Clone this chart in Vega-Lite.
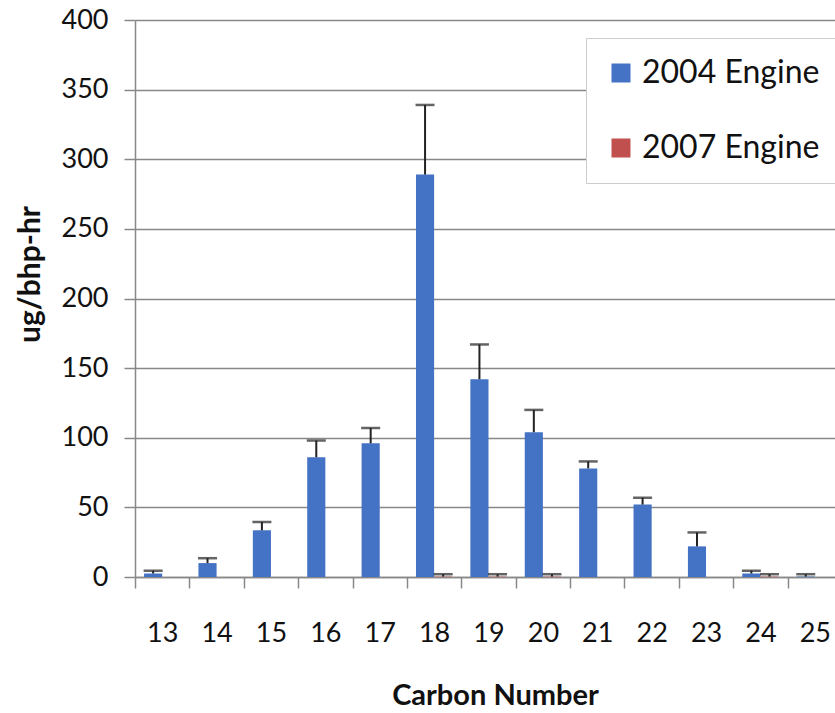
{
  "$schema": "https://vega.github.io/schema/vega-lite/v6.json",
  "width": 700,
  "height": 557,
  "autosize": {"type": "none"},
  "padding": {"left": 135, "top": 20, "right": 0, "bottom": 136},
  "background": "white",
  "config": {
    "view": {"stroke": null},
    "font": "Lato"
  },
  "data": {
    "values": [
      {"carbon": 13, "engine": "2004 Engine", "value": 2.5, "upper": 4.5},
      {"carbon": 14, "engine": "2004 Engine", "value": 10, "upper": 13.5},
      {"carbon": 15, "engine": "2004 Engine", "value": 33.5, "upper": 39.5},
      {"carbon": 16, "engine": "2004 Engine", "value": 86, "upper": 98},
      {"carbon": 17, "engine": "2004 Engine", "value": 96, "upper": 107},
      {"carbon": 18, "engine": "2004 Engine", "value": 289, "upper": 339},
      {"carbon": 19, "engine": "2004 Engine", "value": 142, "upper": 167},
      {"carbon": 20, "engine": "2004 Engine", "value": 104, "upper": 120},
      {"carbon": 21, "engine": "2004 Engine", "value": 78, "upper": 83},
      {"carbon": 22, "engine": "2004 Engine", "value": 52, "upper": 57},
      {"carbon": 23, "engine": "2004 Engine", "value": 22, "upper": 32},
      {"carbon": 24, "engine": "2004 Engine", "value": 2.5, "upper": 4.5},
      {"carbon": 25, "engine": "2004 Engine", "value": 0.3, "upper": 2},
      {"carbon": 13, "engine": "2007 Engine", "value": 0, "upper": null},
      {"carbon": 14, "engine": "2007 Engine", "value": 0, "upper": null},
      {"carbon": 15, "engine": "2007 Engine", "value": 0, "upper": null},
      {"carbon": 16, "engine": "2007 Engine", "value": 0, "upper": null},
      {"carbon": 17, "engine": "2007 Engine", "value": 0, "upper": null},
      {"carbon": 18, "engine": "2007 Engine", "value": 0.3, "upper": 2},
      {"carbon": 19, "engine": "2007 Engine", "value": 0.3, "upper": 2},
      {"carbon": 20, "engine": "2007 Engine", "value": 0.3, "upper": 2},
      {"carbon": 21, "engine": "2007 Engine", "value": 0, "upper": null},
      {"carbon": 22, "engine": "2007 Engine", "value": 0, "upper": null},
      {"carbon": 23, "engine": "2007 Engine", "value": 0, "upper": null},
      {"carbon": 24, "engine": "2007 Engine", "value": 0.3, "upper": 2},
      {"carbon": 25, "engine": "2007 Engine", "value": 0, "upper": null}
    ]
  },
  "encoding": {
    "x": {
      "field": "carbon",
      "type": "ordinal",
      "scale": {"paddingInner": 0, "paddingOuter": 0, "range": [0, 707]},
      "axis": {
        "title": "Carbon Number",
        "titleFont": "Lato",
        "titleFontSize": 29,
        "titleFontWeight": "bold",
        "titleColor": "#111111",
        "titleX": 360,
        "titleY": 118,
        "titleBaseline": "middle",
        "titleAnchor": "start",
        "titleAlign": "center",
        "labelAngle": 0,
        "labelFontSize": 27,
        "labelColor": "#111111",
        "labelPadding": 32,
        "tickBand": "extent",
        "tickSize": 11,
        "tickColor": "#888888",
        "tickWidth": 1.5,
        "domainColor": "#888888",
        "domainWidth": 1.5,
        "grid": false
      }
    },
    "xOffset": {
      "field": "engine",
      "type": "nominal",
      "scale": {"paddingInner": 0, "paddingOuter": 0.5}
    }
  },
  "layer": [
    {
      "mark": {"type": "bar"},
      "encoding": {
        "y": {
          "field": "value",
          "type": "quantitative",
          "scale": {"domain": [0, 400], "nice": false},
          "axis": {
            "title": "ug/bhp-hr",
            "titleFont": "Lato",
            "titleFontSize": 30,
            "titleFontWeight": "bold",
            "titleColor": "#111111",
            "titleX": -105,
            "titleY": 254,
            "titleAngle": 270,
            "titleBaseline": "middle",
            "titleAlign": "center",
            "values": [0, 50, 100, 150, 200, 250, 300, 350, 400],
            "labelFontSize": 27,
            "labelColor": "#111111",
            "labelPadding": 16,
            "tickSize": 11,
            "tickColor": "#888888",
            "tickWidth": 1.5,
            "domainColor": "#888888",
            "domainWidth": 1.5,
            "grid": true,
            "gridColor": "#888888",
            "gridWidth": 1.5
          }
        },
        "color": {
          "field": "engine",
          "type": "nominal",
          "scale": {"domain": ["2004 Engine", "2007 Engine"], "range": ["#4472C4", "#C0504D"]},
          "legend": {
            "title": null,
            "orient": "none",
            "legendX": 451,
            "legendY": 18,
            "padding": 19,
            "fillColor": "white",
            "strokeColor": "#cccccc",
            "symbolType": "square",
            "symbolSize": 361,
            "symbolStrokeWidth": 0,
            "labelFontSize": 32,
            "labelFont": "Lato",
            "labelColor": "#111111",
            "labelOffset": 5,
            "labelLimit": 400,
            "rowPadding": 43
          }
        }
      }
    },
    {
      "transform": [{"filter": "datum.upper != null"}],
      "mark": {"type": "rule", "color": "#222222", "strokeWidth": 2},
      "encoding": {
        "y": {"field": "value", "type": "quantitative"},
        "y2": {"field": "upper"}
      }
    },
    {
      "transform": [{"filter": "datum.upper != null"}],
      "mark": {"type": "tick", "color": "#222222", "thickness": 2.5, "size": 19, "orient": "horizontal"},
      "encoding": {
        "y": {"field": "upper", "type": "quantitative"}
      }
    }
  ]
}
